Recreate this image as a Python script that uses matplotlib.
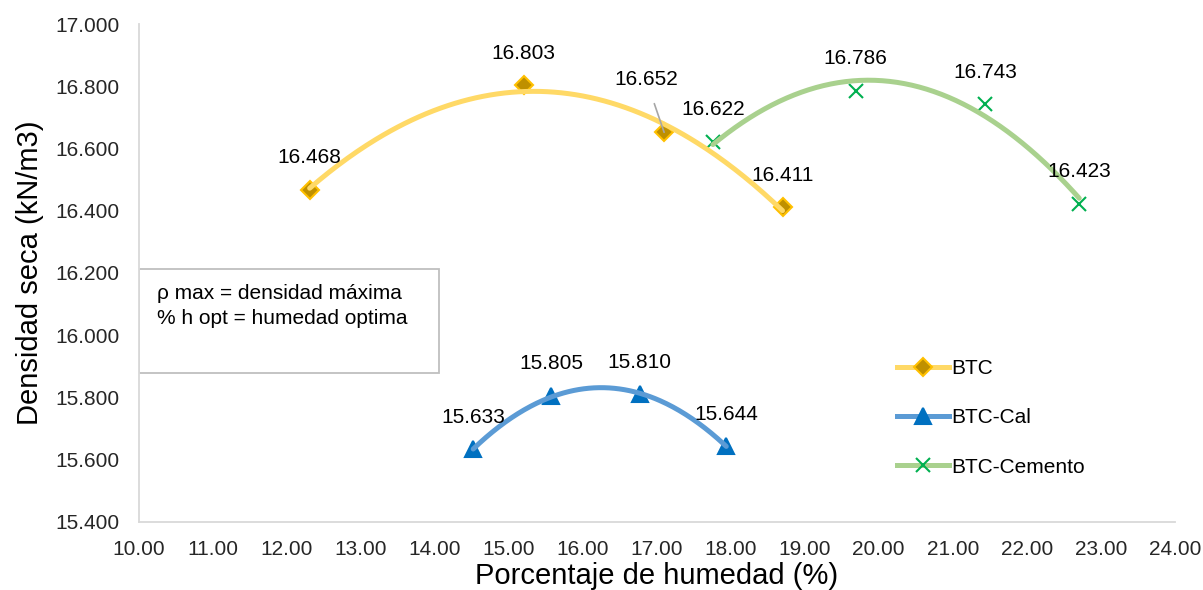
import numpy as np
import matplotlib
matplotlib.use("Agg")
import matplotlib.pyplot as plt
from matplotlib.lines import Line2D

plt.rcParams['font.family'] = ['Liberation Sans', 'DejaVu Sans']

# data
btc_x = [12.31, 15.20, 17.10, 18.70]
btc_y = [16.468, 16.803, 16.652, 16.411]
cal_x = [14.52, 15.57, 16.77, 17.94]
cal_y = [15.633, 15.805, 15.810, 15.644]
cem_x = [17.76, 19.69, 21.44, 22.71]
cem_y = [16.622, 16.786, 16.743, 16.423]

series = [
    ("BTC", btc_x, btc_y, "#FFD966", "D", "#BF9000", "#FFC000", 9),
    ("BTC-Cal", cal_x, cal_y, "#5B9BD5", "^", "#0070C0", "#0070C0", 11),
    ("BTC-Cemento", cem_x, cem_y, "#A9D18E", "x", "#00B050", "#00B050", 10),
]

fig = plt.figure(figsize=(12.03, 5.9), dpi=100)
ax = fig.add_axes([0.1153, 0.1153, 0.8612, 0.844])

handles = []
for name, xs, ys, lc, mk, mfc, mec, ms in series:
    ax.plot(xs, ys, linestyle="none", marker=mk, markersize=ms,
            markerfacecolor=mfc, markeredgecolor=mec, markeredgewidth=1.5, zorder=2)
    # polynomial (order 2) trendline
    c = np.polyfit(xs, ys, 2)
    xx = np.linspace(min(xs), max(xs), 200)
    ax.plot(xx, np.polyval(c, xx), color=lc, linewidth=3.6, zorder=3,
            solid_capstyle="round")
    for x, y in zip(xs, ys):
        if y == 16.652:
            ax.annotate(f"{y:.3f}", (x, y), xytext=(-13, 38), textcoords="offset points",
                        ha="center", va="center", fontsize=15, zorder=4,
                        arrowprops=dict(arrowstyle="-", color="#A6A6A6", lw=1.2,
                                        shrinkA=9, shrinkB=0))
        else:
            ax.annotate(f"{y:.3f}", (x, y), xytext=(0, 23), textcoords="offset points",
                        ha="center", va="center", fontsize=15, zorder=4)
    handles.append(Line2D([], [], color=lc, linewidth=3.6, marker=mk, markersize=ms,
                          markerfacecolor=mfc, markeredgecolor=mec, markeredgewidth=1.5))

ax.set_xlim(10, 24)
ax.set_ylim(15.4, 17.0)
ax.set_xticks(np.arange(10, 24.5, 1))
ax.set_yticks(np.arange(15.4, 17.01, 0.2))
ax.xaxis.set_major_formatter(plt.FormatStrFormatter("%.2f"))
ax.yaxis.set_major_formatter(plt.FormatStrFormatter("%.3f"))
ax.tick_params(length=0, labelsize=15, labelcolor="#262626")
ax.tick_params(axis="x", pad=13)
ax.tick_params(axis="y", pad=14)

for s in ["top", "right"]:
    ax.spines[s].set_visible(False)
for s in ["left", "bottom"]:
    ax.spines[s].set_color("#D9D9D9")
    ax.spines[s].set_linewidth(1.3)

ax.set_xlabel("Porcentaje de humedad (%)", fontsize=21, labelpad=2)
ax.set_ylabel("Densidad seca (kN/m3)", fontsize=21, labelpad=8)

leg = ax.legend(handles, [s[0] for s in series], loc="center left",
                bbox_to_anchor=(0.714, 0.209), frameon=False, fontsize=15,
                handlelength=2.5, labelspacing=1.45, handletextpad=0.1)

# info box
ax.text(0.018, 0.478, "ρ max = densidad máxima\n% h opt = humedad optima",
        transform=ax.transAxes, fontsize=15, va="top", ha="left", linespacing=1.4)
box = plt.Rectangle((0.0, 0.299), 0.29, 0.209, transform=ax.transAxes,
                    fill=False, edgecolor="#BFBFBF", linewidth=1.3, zorder=1)
ax.add_patch(box)

fig.savefig("out.png", dpi=100)
